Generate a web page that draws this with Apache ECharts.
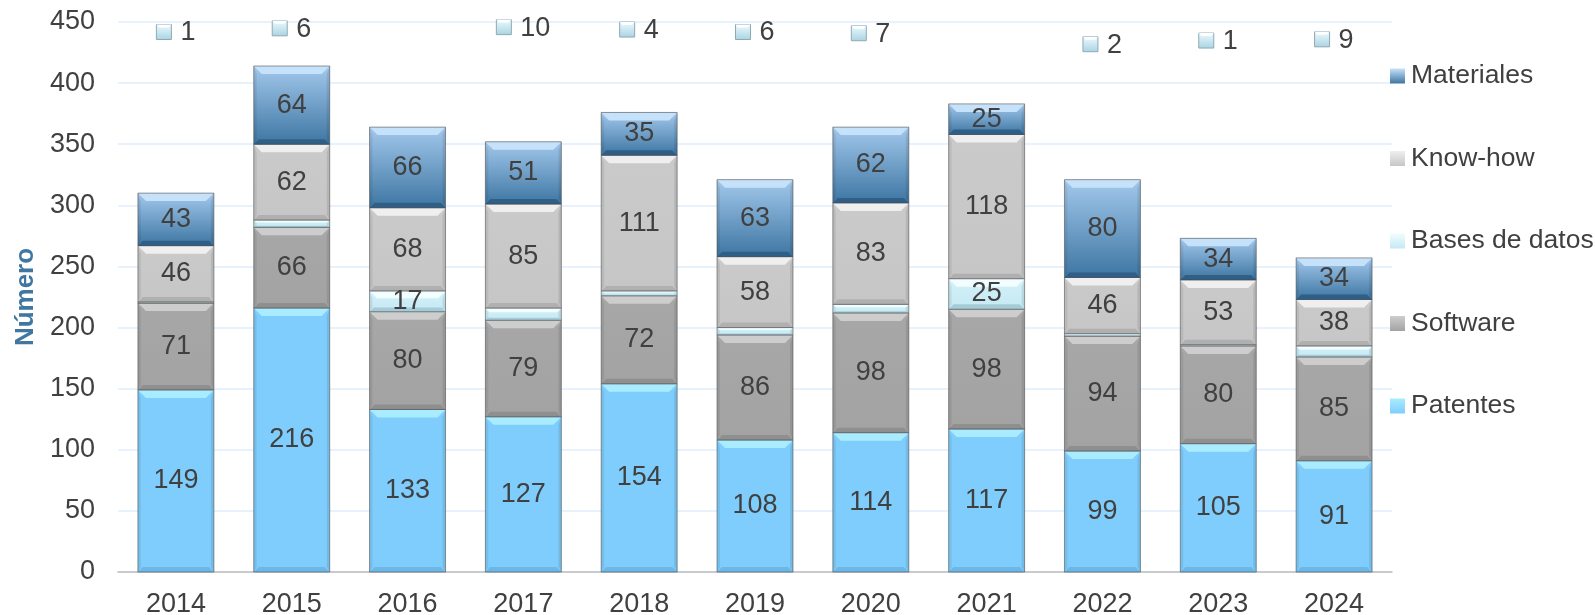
<!DOCTYPE html>
<html>
<head>
<meta charset="utf-8">
<script src="https://cdn.jsdelivr.net/npm/echarts@6/dist/echarts.min.js"></script>
<style>
  * { margin: 0; padding: 0; }
  html, body { background: #fff; }
  #main { width: 1595px; height: 615px; }
</style>
</head>
<body>
<div id="main"></div>
<script>
// datos
var years = ['2014', '2015', '2016', '2017', '2018', '2019', '2020', '2021', '2022', '2023', '2024'];
var patentes = [149, 216, 133, 127, 154, 108, 114, 117, 99, 105, 91];
var software = [71, 66, 80, 79, 72, 86, 98, 98, 94, 80, 85];
var basesDatos = [1, 6, 17, 10, 4, 6, 7, 25, 2, 1, 9];
var knowHow = [46, 62, 68, 85, 111, 58, 83, 118, 46, 53, 38];
var materiales = [43, 64, 66, 51, 35, 63, 62, 25, 80, 34, 34];
var yMax = 450, yStep = 50;

// altura (en unidades del eje) de las etiquetas pequeñas de "Bases de datos"
var calloutLevel = [441, 444, null, 445, 443, 441, 440, null, 431, 434, 435];

var FONT = 'Liberation Sans, Arial, sans-serif';
var FS = 27;
var TXT = '#404040';

function vgrad(c0, c1) {
  return new echarts.graphic.LinearGradient(0, 0, 0, 1, [
    { offset: 0, color: c0 }, { offset: 1, color: c1 }
  ]);
}

var looks = {
  'Patentes':       { main: '#7fcdfc', mainB: '#7fcdfc', top: '#a9ecff', bottom: '#6cb7e6' },
  'Software':       { main: '#a7a7a7', mainB: '#a3a3a3', top: '#cdcdcd', bottom: '#8f8f8f' },
  'Bases de datos': { main: '#d3f1f9', mainB: '#c6e9f3', top: '#f1fdff', bottom: '#a6cbd8' },
  'Know-how':       { main: '#cacaca', mainB: '#c6c6c6', top: '#efefef', bottom: '#b0b0b0' },
  'Materiales':     { main: '#a3c8ec', mainB: '#3d76a2', top: '#c6e2fa', bottom: '#2f5f86' }
};

function segRender(name) {
  var lk = looks[name];
  return function (params, api) {
    var i = api.value(0), lo = api.value(1), hi = api.value(2), v = api.value(3);
    var pLo = api.coord([i, lo]), pHi = api.coord([i, hi]);
    var w = api.size([1, 0])[0] * 0.656;
    var x = pLo[0] - w / 2, y = pHi[1], h = pLo[1] - pHi[1];
    var b = Math.min(8, h * 0.35), b2 = Math.min(5, h * 0.2), s = Math.min(3, w * 0.1);
    var kids = [
      { type: 'rect', shape: { x: x, y: y, width: w, height: h },
        style: { fill: vgrad(lk.main, lk.mainB) } },
      { type: 'polygon', shape: { points: [[x, y], [x + s, y + b], [x + s, y + h - b2], [x, y + h]] },
        style: { fill: 'rgba(0,0,0,0.07)' } },
      { type: 'polygon', shape: { points: [[x + w, y], [x + w - s, y + b], [x + w - s, y + h - b2], [x + w, y + h]] },
        style: { fill: 'rgba(0,0,0,0.09)' } },
      { type: 'polygon', shape: { points: [[x, y], [x + w, y], [x + w - b, y + b], [x + b, y + b]] },
        style: { fill: lk.top } },
      { type: 'polygon', shape: { points: [[x, y + h], [x + w, y + h], [x + w - b2, y + h - b2], [x + b2, y + h - b2]] },
        style: { fill: lk.bottom } },
      { type: 'rect', shape: { x: x, y: y, width: w, height: h },
        style: { fill: 'none', stroke: 'rgba(70,70,70,0.55)', lineWidth: 1 } }
    ];
    if (v >= 12) {
      kids.push({ type: 'text', z2: 10, style: {
        text: String(v), x: pLo[0], y: y + h / 2,
        align: 'center', verticalAlign: 'middle',
        textAlign: 'center', textVerticalAlign: 'middle',
        fontSize: FS, fontFamily: FONT, fill: TXT } });
    }
    return { type: 'group', children: kids };
  };
}

var stackOrder = [
  ['Patentes', patentes], ['Software', software], ['Bases de datos', basesDatos],
  ['Know-how', knowHow], ['Materiales', materiales]
];

var base = years.map(function () { return 0; });
var series = stackOrder.map(function (pair) {
  var name = pair[0], vals = pair[1];
  var data = vals.map(function (v, i) {
    var item = [i, base[i], base[i] + v, v];
    base[i] += v;
    return item;
  });
  return {
    name: name, type: 'custom', renderItem: segRender(name),
    itemStyle: { color: vgrad(looks[name].top, looks[name].mainB) },
    encode: { x: 0, y: [1, 2] }, data: data, clip: false
  };
});

// etiquetas pequeñas arriba
var calloutData = [];
basesDatos.forEach(function (v, i) {
  if (calloutLevel[i] != null) calloutData.push([i, calloutLevel[i], v]);
});
series.push({
  name: 'callouts', type: 'custom', clip: false, z: 5,
  encode: { x: 0, y: 1 }, data: calloutData,
  renderItem: function (params, api) {
    var p = api.coord([api.value(0), api.value(1)]);
    var v = api.value(2);
    var tw = String(v).length * FS * 0.556;
    var x0 = p[0] - (15 + 9 + tw) / 2;
    return { type: 'group', children: [
      { type: 'rect', shape: { x: x0, y: p[1] - 8.5, width: 15, height: 15 },
        style: { fill: vgrad('#eefbff', '#a9d3e2'), stroke: '#8fa9b4', lineWidth: 1 } },
      { type: 'polygon', shape: { points: [[x0, p[1] - 8.5], [x0 + 15, p[1] - 8.5], [x0 + 12, p[1] - 5.5], [x0 + 3, p[1] - 5.5]] },
        style: { fill: '#ffffff' } },
      { type: 'text', style: { text: String(v), x: x0 + 24, y: p[1],
        align: 'left', verticalAlign: 'middle', textAlign: 'left', textVerticalAlign: 'middle',
        fontSize: FS, fontFamily: FONT, fill: TXT } }
    ] };
  }
});

var option = {
  animation: false,
  grid: { left: 118, right: 203, top: 22, bottom: 43, outerBoundsMode: 'none', containLabel: false },
  legend: {
    orient: 'vertical', left: 1390, top: 62.5, padding: 0,
    itemWidth: 15, itemHeight: 15, itemGap: 55.5, icon: 'rect',
    data: ['Materiales', 'Know-how', 'Bases de datos', 'Software', 'Patentes'],
    textStyle: { fontSize: 26.5, fontFamily: FONT, color: TXT, lineHeight: 27, padding: [0, 0, 0, 1] }
  },
  xAxis: {
    type: 'category', data: years,
    axisTick: { show: false },
    axisLine: { lineStyle: { color: '#bfbfbf', width: 1.5 } },
    axisLabel: { fontSize: FS, fontFamily: FONT, color: TXT, margin: 19 }
  },
  yAxis: {
    type: 'value', min: 0, max: yMax, interval: yStep,
    name: 'Número', nameLocation: 'middle', nameGap: 78,
    nameTextStyle: { fontSize: 26, fontWeight: 'bold', fontFamily: FONT, color: '#3f77a1' },
    axisLine: { show: false }, axisTick: { show: false },
    axisLabel: { fontSize: FS, fontFamily: FONT, color: TXT, margin: 23 },
    splitLine: { lineStyle: { color: '#dfeefb', width: 1.5 } }
  },
  series: series
};

var chart = echarts.init(document.getElementById('main'));
chart.setOption(option);
</script>
</body>
</html>
